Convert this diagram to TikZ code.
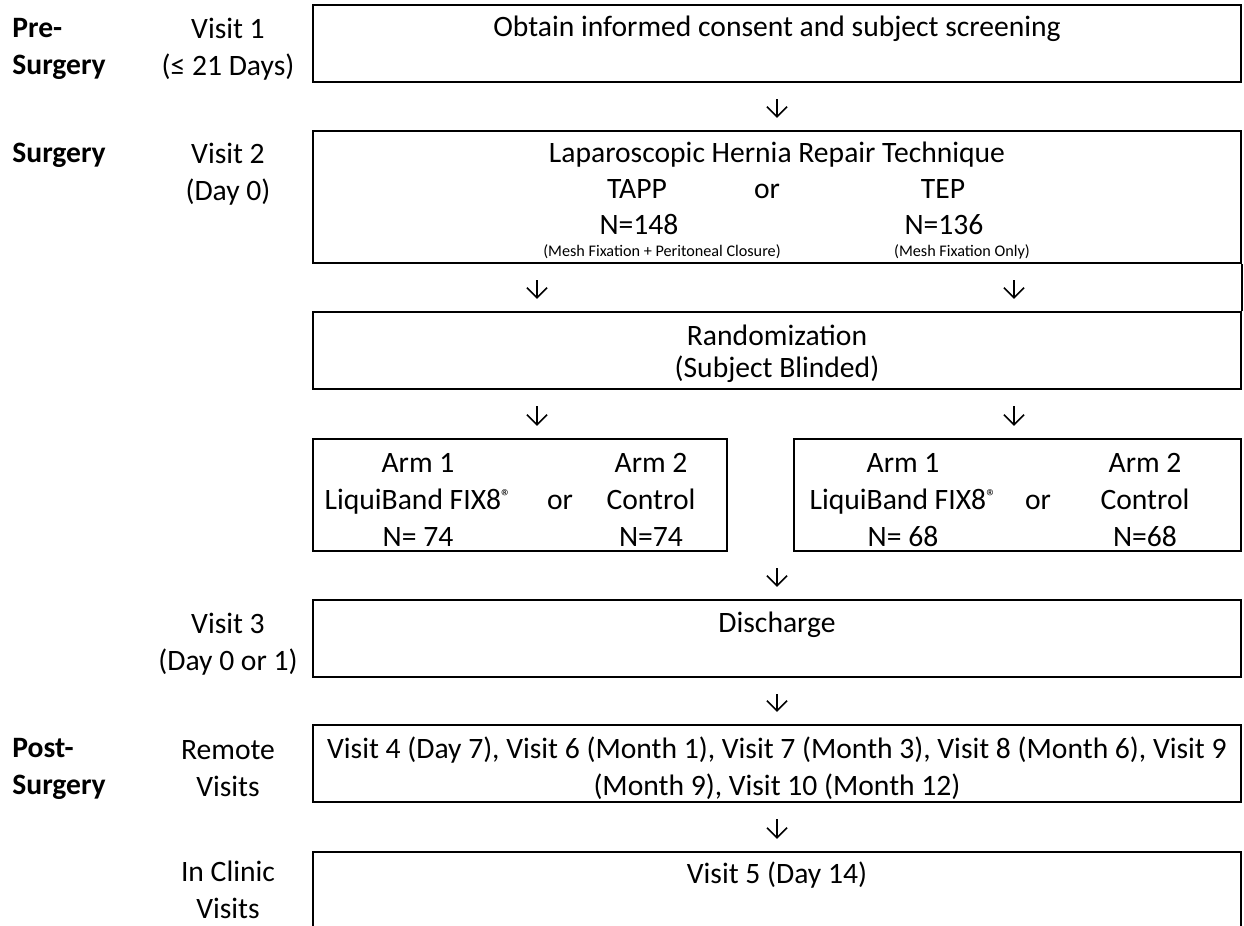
\documentclass[tikz,border=0pt]{standalone}
\usepackage{fontspec}
\setmainfont{Carlito}
\usetikzlibrary{fit,arrows.meta}
\newcommand{\regmark}{\raisebox{3pt}{\fontsize{10}{10}\selectfont ®}}
\begin{document}
\begin{tikzpicture}[x=0.5pt,y=-0.5pt,
	every node/.style={font=\fontsize{14.8}{18.5}\selectfont,inner sep=0pt,align=center},
	row/.style={text height=12.5pt,text depth=3pt},
	box/.style={draw,line width=1.2pt},
	phase/.style={font=\fontsize{14.8}{18.5}\selectfont\bfseries,anchor=west,align=left},
	note/.style={font=\fontsize{8.1}{9}\selectfont,text height=5.5pt,text depth=1.6pt},
	arr/.style={-{Straight Barb[length=5pt,width=10pt]},line width=0.75pt,shorten <=8pt,shorten >=6pt}]
\useasboundingbox (0,0) rectangle (1244,926);
\coordinate (colL) at (537,0);
\coordinate (colR) at (1014,0);
\node[phase] (pre) at (12,49) {Pre-\\Surgery};
\node (v1) at (228,49) {Visit 1\\(≤ 21 Days)};
\node[phase,row] (surg) at (12,153) {Surgery};
\node (v2) at (228,174) {Visit 2\\(Day 0)};
\node (v3) at (228,644) {Visit 3\\(Day 0 or 1)};
\node[phase] (post) at (12,769) {Post-\\Surgery};
\node (remote) at (228,769) {Remote\\Visits};
\node (inclinic) at (228,890) {In Clinic\\Visits};
\node[box,fit={(313,5) (1241,82)}] (consent) {};
\node[row] at (777,27) {Obtain informed consent and subject screening};
\node[box,fit={(313,131) (1241,263)}] (lap) {};
\node[row] (laptxt) at (777,153) {Laparoscopic Hernia Repair Technique};
\node[row] (tapp) at (637,189) {TAPP};
\node[row] (or1) at (767,189) {or};
\node[row] (tep) at (943,189) {TEP};
\node[row] (ntapp) at (639,225) {N=148};
\node[row] (ntep) at (944,225) {N=136};
\node[note] at (662,253) {(Mesh Fixation + Peritoneal Closure)};
\node[note] at (962,253) {(Mesh Fixation Only)};
\node[box,fit={(313,312) (1241,389)}] (rand) {};
\node[font=\fontsize{14.8}{16}\selectfont] at (777,354) {Randomization\\(Subject Blinded)};
\node[box,fit={(313,439) (727,551)}] (armL) {};
\node at (418,500) {Arm 1\\LiquiBand FIX8\regmark\\N= 74};
\node[row] at (560,500) {or};
\node at (651,500) {Arm 2\\Control\\N=74};
\node[box,fit={(794,439) (1241,551)}] (armR) {};
\node at (903,500) {Arm 1\\LiquiBand FIX8\regmark\\N= 68};
\node[row] at (1038,500) {or};
\node at (1145,500) {Arm 2\\Control\\N=68};
\node[box,fit={(313,600) (1241,677)}] (dis) {};
\node[row] at (777,623) {Discharge};
\node[box,fit={(313,725) (1241,802)}] (rem) {};
\node at (777,768) {Visit 4 (Day 7), Visit 6 (Month 1), Visit 7 (Month 3), Visit 8 (Month 6), Visit 9\\(Month 9), Visit 10 (Month 12)};
\node[box,fit={(313,852) (1241,940)}] (clin) {};
\node[row] at (777,874) {Visit 5 (Day 14)};
\draw[line width=1.2pt] (lap.south east) -- (rand.north east);
\draw[arr] (consent.south) -- (lap.north);
\draw[arr] (lap.south -| colL) -- (rand.north -| colL);
\draw[arr] (lap.south -| colR) -- (rand.north -| colR);
\draw[arr] (rand.south -| colL) -- (armL.north -| colL);
\draw[arr] (rand.south -| colR) -- (armR.north -| colR);
\draw[arr] (dis.north |- armL.south) -- (dis.north);
\draw[arr] (dis.south) -- (rem.north);
\draw[arr] (rem.south) -- (clin.north);
\end{tikzpicture}
\end{document}
